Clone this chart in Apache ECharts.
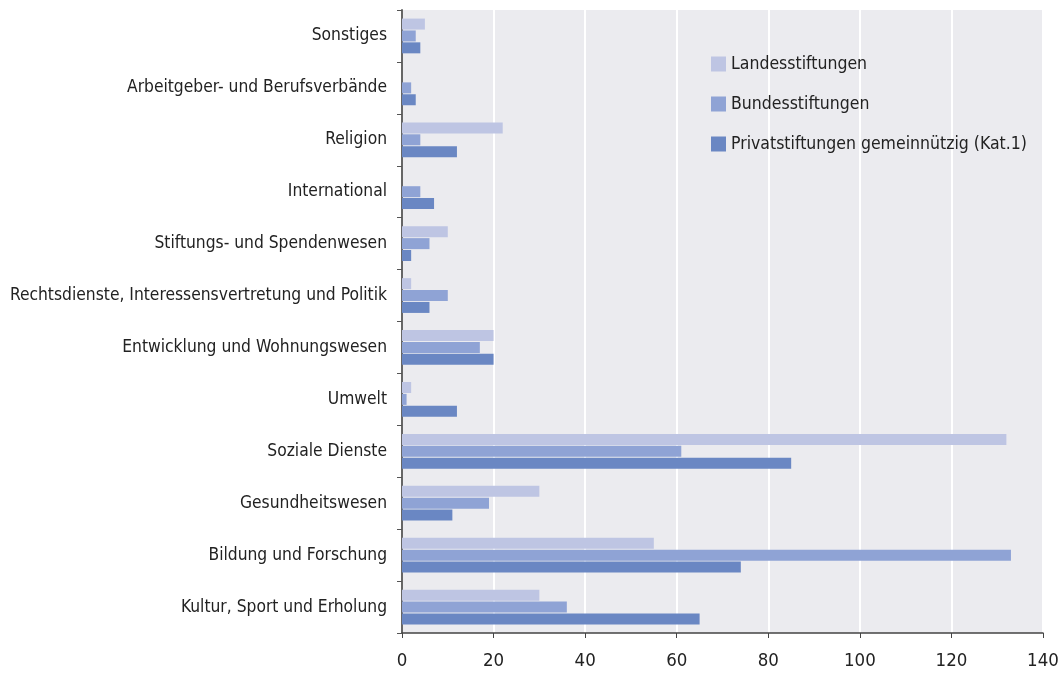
<!DOCTYPE html>
<html>
<head>
    <meta charset="utf-8">
    <title>Stiftungen nach Zweck</title>
    <script src="https://cdn.jsdelivr.net/npm/echarts@6/dist/echarts.min.js"></script>
</head>
<body style="margin:0">
<div id="main" style="width: 1062px;height:674px;"></div>
<script type="text/javascript">
    var myChart = echarts.init(document.getElementById('main'));

    // Kategorien von oben nach unten
    var categories = ['Sonstiges', 'Arbeitgeber- und Berufsverbände', 'Religion', 'International',
        'Stiftungs- und Spendenwesen', 'Rechtsdienste, Interessensvertretung und Politik',
        'Entwicklung und Wohnungswesen', 'Umwelt', 'Soziale Dienste', 'Gesundheitswesen',
        'Bildung und Forschung', 'Kultur, Sport und Erholung'];
    var landes = [5, 0, 22, 0, 10, 2, 20, 2, 132, 30, 55, 30];
    var bundes = [3, 2, 4, 4, 6, 10, 17, 1, 61, 19, 133, 36];
    var privat = [4, 3, 12, 7, 2, 6, 20, 12, 85, 11, 74, 65];

    var font = "'DejaVu Sans Condensed', 'Liberation Sans Narrow', sans-serif";

    option = {
        textStyle: { fontFamily: font },
        legend: {
            orient: 'vertical',
            left: 706,
            top: 50,
            itemGap: 22,
            itemWidth: 15,
            itemHeight: 15,
            icon: 'rect',
            textStyle: { fontFamily: font, fontSize: 17.5, color: '#222' },
            data: ['Landesstiftungen', 'Bundesstiftungen', 'Privatstiftungen gemeinnützig (Kat.1)']
        },
        grid: {
            left: 402,
            right: 19,
            top: 10,
            bottom: 41,
            outerBoundsMode: 'none',
            containLabel: false,
            show: true,
            backgroundColor: '#ebebef',
            borderWidth: 0
        },
        xAxis: {
            type: 'value',
            min: 0,
            max: 140,
            interval: 20,
            axisLine: { show: true, lineStyle: { color: '#444', width: 1.5 } },
            axisTick: { show: true, length: 5, lineStyle: { color: '#444' } },
            axisLabel: { fontFamily: font, fontSize: 18.5, color: '#222', margin: 19 },
            splitLine: { show: true, lineStyle: { color: '#ffffff', width: 2 } }
        },
        yAxis: {
            type: 'category',
            inverse: true,
            data: categories,
            axisLine: { show: true, lineStyle: { color: '#666', width: 2 } },
            axisTick: { show: true, length: 5, lineStyle: { color: '#555' } },
            axisLabel: { fontFamily: font, fontSize: 17.3, color: '#222', margin: 15 },
            splitLine: { show: false }
        },
        series: [{
            name: 'Landesstiftungen',
            type: 'bar',
            data: landes,
            barWidth: 11,
            barGap: '8%',
            barCategoryGap: '30%',
            itemStyle: { color: '#bec5e3' }
        }, {
            name: 'Bundesstiftungen',
            type: 'bar',
            data: bundes,
            barWidth: 11,
            itemStyle: { color: '#8fa3d5' }
        }, {
            name: 'Privatstiftungen gemeinnützig (Kat.1)',
            type: 'bar',
            data: privat,
            barWidth: 11,
            itemStyle: { color: '#6a87c3' }
        }]
    };

    myChart.setOption(option);
</script>
</body>
</html>
